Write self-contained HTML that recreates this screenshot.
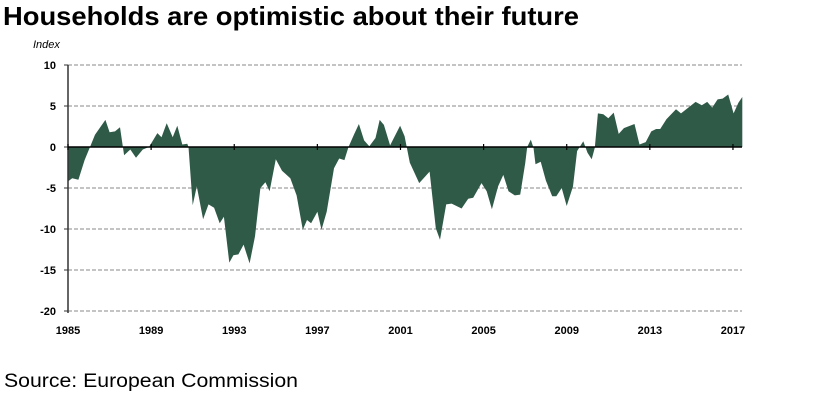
<!DOCTYPE html>
<html><head><meta charset="utf-8"><style>
body{margin:0;background:#fff;width:824px;height:404px;overflow:hidden;font-family:"Liberation Sans",sans-serif}
</style></head><body>
<svg id="chart" width="824" height="404" xmlns="http://www.w3.org/2000/svg">
<text x="3" y="25" font-size="26" font-weight="bold" fill="#000" textLength="576" lengthAdjust="spacingAndGlyphs">Households are optimistic about their future</text>
<text x="33" y="48" font-size="11" font-style="italic" fill="#000">Index</text>
<text x="4" y="387" font-size="19" fill="#000" textLength="294" lengthAdjust="spacingAndGlyphs">Source: European Commission</text>
<g id="plot"></g>
</svg>
<script>
const years=[1985,1985.2,1985.5,1985.8,1986.06,1986.3,1986.8,1987.0,1987.26,1987.5,1987.7,1988.0,1988.27,1988.6,1988.9,1989.3,1989.5,1989.75,1990.04,1990.26,1990.5,1990.74,1990.8,1991.0,1991.2,1991.5,1991.76,1992.03,1992.3,1992.5,1992.76,1992.96,1993.2,1993.45,1993.74,1994.0,1994.26,1994.5,1994.7,1995.0,1995.3,1995.7,1996.0,1996.3,1996.5,1996.7,1997.0,1997.2,1997.45,1997.8,1998.05,1998.3,1998.5,1998.76,1999.0,1999.25,1999.5,1999.8,2000.0,2000.2,2000.5,2000.98,2001.2,2001.45,2001.9,2002.4,2002.7,2002.9,2003.2,2003.46,2003.94,2004.26,2004.5,2004.9,2005.15,2005.4,2005.7,2005.95,2006.2,2006.5,2006.76,2007.0,2007.1,2007.27,2007.4,2007.5,2007.75,2008.0,2008.3,2008.5,2008.76,2009.0,2009.3,2009.5,2009.6,2009.8,2010.0,2010.2,2010.35,2010.5,2010.76,2011.0,2011.26,2011.5,2011.75,2012.26,2012.5,2012.8,2013.07,2013.3,2013.5,2013.8,2014.26,2014.5,2014.8,2015.2,2015.5,2015.76,2016.0,2016.26,2016.5,2016.77,2017.03,2017.26,2017.45];
const values=[-4.2,-3.8,-4.0,-1.6,0,1.5,3.3,1.8,1.9,2.4,-1.0,-0.3,-1.3,-0.3,0,1.7,1.2,2.9,1.2,2.6,0.3,0.4,0,-7.1,-4.8,-8.8,-7.0,-7.4,-9.3,-8.5,-14.1,-13.2,-13.1,-11.9,-14.2,-10.9,-5.0,-4.3,-5.4,-1.5,-2.9,-3.8,-5.9,-10.1,-8.9,-9.3,-7.9,-10.1,-7.9,-2.6,-1.4,-1.6,0,1.5,2.8,0.8,0.1,1.1,3.3,2.7,0.2,2.6,1.3,-1.9,-4.4,-3.0,-9.9,-11.3,-7.0,-6.9,-7.5,-6.3,-6.2,-4.4,-5.4,-7.6,-4.8,-3.4,-5.4,-5.9,-5.8,-2.0,0,0.9,-0.1,-2.1,-1.8,-4.1,-6.0,-6.0,-5.0,-7.2,-4.8,-0.5,-0.1,0.7,-0.7,-1.5,-0.1,4.1,4.0,3.5,4.2,1.6,2.3,2.8,0.3,0.6,1.9,2.2,2.2,3.4,4.6,4.1,4.7,5.5,5.1,5.5,4.8,5.8,5.9,6.4,4.1,5.4,6.1];
const yTicks=[10,5,0,-5,-10,-15,-20];
const xTicks=[1985,1989,1993,1997,2001,2005,2009,2013,2017];
const NS="http://www.w3.org/2000/svg";
const X=y=>68+(y-1985)*20.78;
const Y=v=>147-v*8.2;
const g=document.getElementById('plot');
function mk(t,a){const e=document.createElementNS(NS,t);for(const k in a)e.setAttribute(k,a[k]);g.appendChild(e);return e;}
yTicks.forEach(v=>{
  if(v!==0){const l=mk('line',{x1:68,x2:742,y1:Y(v),y2:Y(v),stroke:'#888','stroke-dasharray':'4,2','stroke-width':1});
  
  }
  const tk=mk('line',{x1:64,x2:68,y1:Y(v),y2:Y(v),stroke:'#333'});
  
  
  const t=mk('text',{x:56,y:Y(v)+4,'text-anchor':'end','font-size':11,'font-weight':'bold',fill:'#000'});
  t.textContent=v;
  
  
});
let d='M'+X(years[0])+','+Y(0);
years.forEach((yr,i)=>{d+=' L'+X(yr).toFixed(1)+','+Y(values[i]).toFixed(1);});
d+=' L'+X(years[years.length-1])+','+Y(0)+' Z';
const area=mk('path',{d:d,fill:'#2f5a48'});


const ax=mk('line',{x1:68,x2:68,y1:Y(10),y2:Y(-20)+2,stroke:'#333','stroke-width':1.5});


const zl=mk('line',{x1:68,x2:742,y1:Y(0),y2:Y(0),stroke:'#000','stroke-width':1.5});


xTicks.forEach(yr=>{
  const tk=mk('line',{x1:X(yr),x2:X(yr),y1:Y(0)-3,y2:Y(0)+3,stroke:'#000','stroke-width':1.2});
  
  
  const t=mk('text',{x:X(yr),y:334,'text-anchor':'middle','font-size':11,'font-weight':'bold',fill:'#000'});
  t.textContent=yr;
  
  
});
</script>
</body></html>
